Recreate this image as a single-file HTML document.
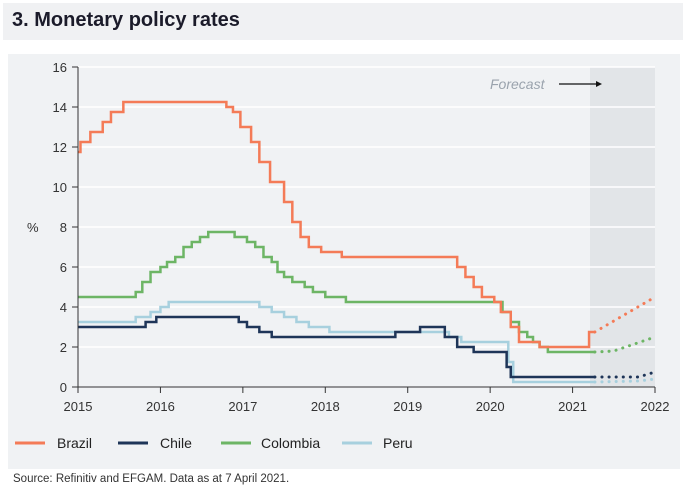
<!DOCTYPE html>
<html><head><meta charset="utf-8"><style>
body{margin:0;width:687px;height:500px;background:#fff;font-family:"Liberation Sans",sans-serif;overflow:hidden}
.title{position:absolute;left:3px;top:3px;width:680px;height:37px;background:#f0f1f3}
.title span{position:absolute;left:9px;top:6px;font-size:20px;font-weight:bold;color:#1b1b2a}
</style></head><body>
<div class="title"><span>3. Monetary policy rates</span></div>
<svg id="s" width="687" height="500" style="position:absolute;left:0;top:0">
<rect x="8" y="54" width="672" height="415" fill="#f0f2f4"/>
<rect x="590" y="67" width="65" height="320" fill="#e2e5e8"/>
<g id="grid" stroke="#ffffff" stroke-width="1.5"></g>
<g id="series" fill="none" stroke-width="2.5"></g>
<g font-size="13" fill="#333" id="lbl"></g>
<text x="490" y="89" font-size="14" font-style="italic" fill="#9aa3ad">Forecast</text>
<line x1="559" y1="84" x2="596" y2="84" stroke="#111" stroke-width="1.2"/>
<path d="M596,81 L602,84 L596,87z" fill="#111"/>
<text x="27" y="232" font-size="13" fill="#333">%</text>
<g font-size="14" fill="#222">
<line x1="15" y1="443" x2="45" y2="443" stroke="#f47b57" stroke-width="3"/><text x="57" y="448">Brazil</text>
<line x1="118" y1="443" x2="148" y2="443" stroke="#1e3558" stroke-width="3"/><text x="160" y="448">Chile</text>
<line x1="221" y1="443" x2="251" y2="443" stroke="#6db565" stroke-width="3"/><text x="261" y="448">Colombia</text>
<line x1="342" y1="443" x2="372" y2="443" stroke="#a7d0de" stroke-width="3"/><text x="383" y="448">Peru</text>
</g>
<text x="13" y="482" font-size="11.5" fill="#333">Source: Refinitiv and EFGAM. Data as at 7 April 2021.</text>
</svg>
<script>
const X=t=>78+(t-2015)*82.43, Y=v=>387-20*v;
const g=document.getElementById('grid'),L=document.getElementById('lbl'),S=document.getElementById('series');
let h='',l='';
for(let v=0;v<=16;v+=2){if(v>0)h+=`<line x1="78" x2="655" y1="${Y(v)}" y2="${Y(v)}"/>`;
l+=`<text x="67" y="${Y(v)+5}" text-anchor="end">${v}</text><line x1="72" x2="78" y1="${Y(v)}" y2="${Y(v)}" stroke="#333"/>`;}
l+=`<line x1="78" x2="78" y1="67" y2="387" stroke="#333"/><line x1="78" x2="655" y1="387" y2="387" stroke="#333"/>`;
for(let y=2015;y<=2022;y++){l+=`<line x1="${X(y)}" x2="${X(y)}" y1="387" y2="393" stroke="#333"/><text x="${X(y)}" y="411" text-anchor="middle">${y}</text>`;}
g.innerHTML=h;L.innerHTML=l;
function step(d,end){let p=`M${X(d[0][0])},${Y(d[0][1])}`;for(let i=1;i<d.length;i++){p+=` H${X(d[i][0])} V${Y(d[i][1])}`;}p+=` H${X(end)}`;return p;}
const br=[[2015,11.75],[2015.03,12.25],[2015.15,12.75],[2015.3,13.25],[2015.4,13.75],[2015.55,14.25],[2016.8,14],[2016.88,13.75],[2016.97,13],[2017.1,12.25],[2017.2,11.25],[2017.33,10.25],[2017.5,9.25],[2017.6,8.25],[2017.7,7.5],[2017.8,7],[2017.95,6.75],[2018.2,6.5],[2019.6,6],[2019.7,5.5],[2019.8,5],[2019.9,4.5],[2020.05,4.25],[2020.13,3.75],[2020.25,3],[2020.35,2.25],[2020.6,2],[2021.2,2.75]];
const ch=[[2015,3],[2015.82,3.25],[2015.95,3.5],[2016.95,3.25],[2017.05,3],[2017.2,2.75],[2017.35,2.5],[2018.85,2.75],[2019.15,3],[2019.45,2.5],[2019.6,2],[2019.8,1.75],[2020.2,1],[2020.25,0.5]];
const co=[[2015,4.5],[2015.7,4.75],[2015.78,5.25],[2015.88,5.75],[2016,6],[2016.08,6.25],[2016.18,6.5],[2016.28,7],[2016.38,7.25],[2016.48,7.5],[2016.58,7.75],[2016.9,7.5],[2017.05,7.25],[2017.15,7],[2017.25,6.5],[2017.35,6.25],[2017.42,5.75],[2017.5,5.5],[2017.6,5.25],[2017.75,5],[2017.85,4.75],[2018,4.5],[2018.25,4.25],[2020.15,3.75],[2020.25,3.25],[2020.35,2.75],[2020.45,2.5],[2020.52,2.25],[2020.6,2],[2020.7,1.75]];
const pe=[[2015,3.25],[2015.7,3.5],[2015.88,3.75],[2016,4],[2016.1,4.25],[2017.2,4],[2017.35,3.75],[2017.5,3.5],[2017.65,3.25],[2017.8,3],[2018.05,2.75],[2019.5,2.5],[2019.65,2.25],[2020.22,1.25],[2020.28,0.25]];
const E=2021.27;
let s='';
s+=`<path d="${step(pe,E)}" stroke="#a7d0de"/>`;
s+=`<path d="${step(ch,E)}" stroke="#1e3558"/>`;
s+=`<path d="${step(co,E)}" stroke="#6db565"/>`;
s+=`<path d="${step(br,E)}" stroke="#f47b57"/>`;
const dot=(pts,c)=>`<polyline points="${pts.map(p=>X(p[0])+','+Y(p[1])).join(' ')}" stroke="${c}" stroke-width="3" stroke-dasharray="0.1 7" stroke-linecap="round"/>`;
s+=dot([[E,0.25],[2021.8,0.3],[2022,0.4]],'#a7d0de');
s+=dot([[E,0.5],[2021.8,0.5],[2022,0.75]],'#1e3558');
s+=dot([[E,1.75],[2021.5,1.8],[2022,2.5]],'#6db565');
s+=dot([[E,2.75],[2022,4.5]],'#f47b57');
S.innerHTML=s;
</script>
</body></html>
